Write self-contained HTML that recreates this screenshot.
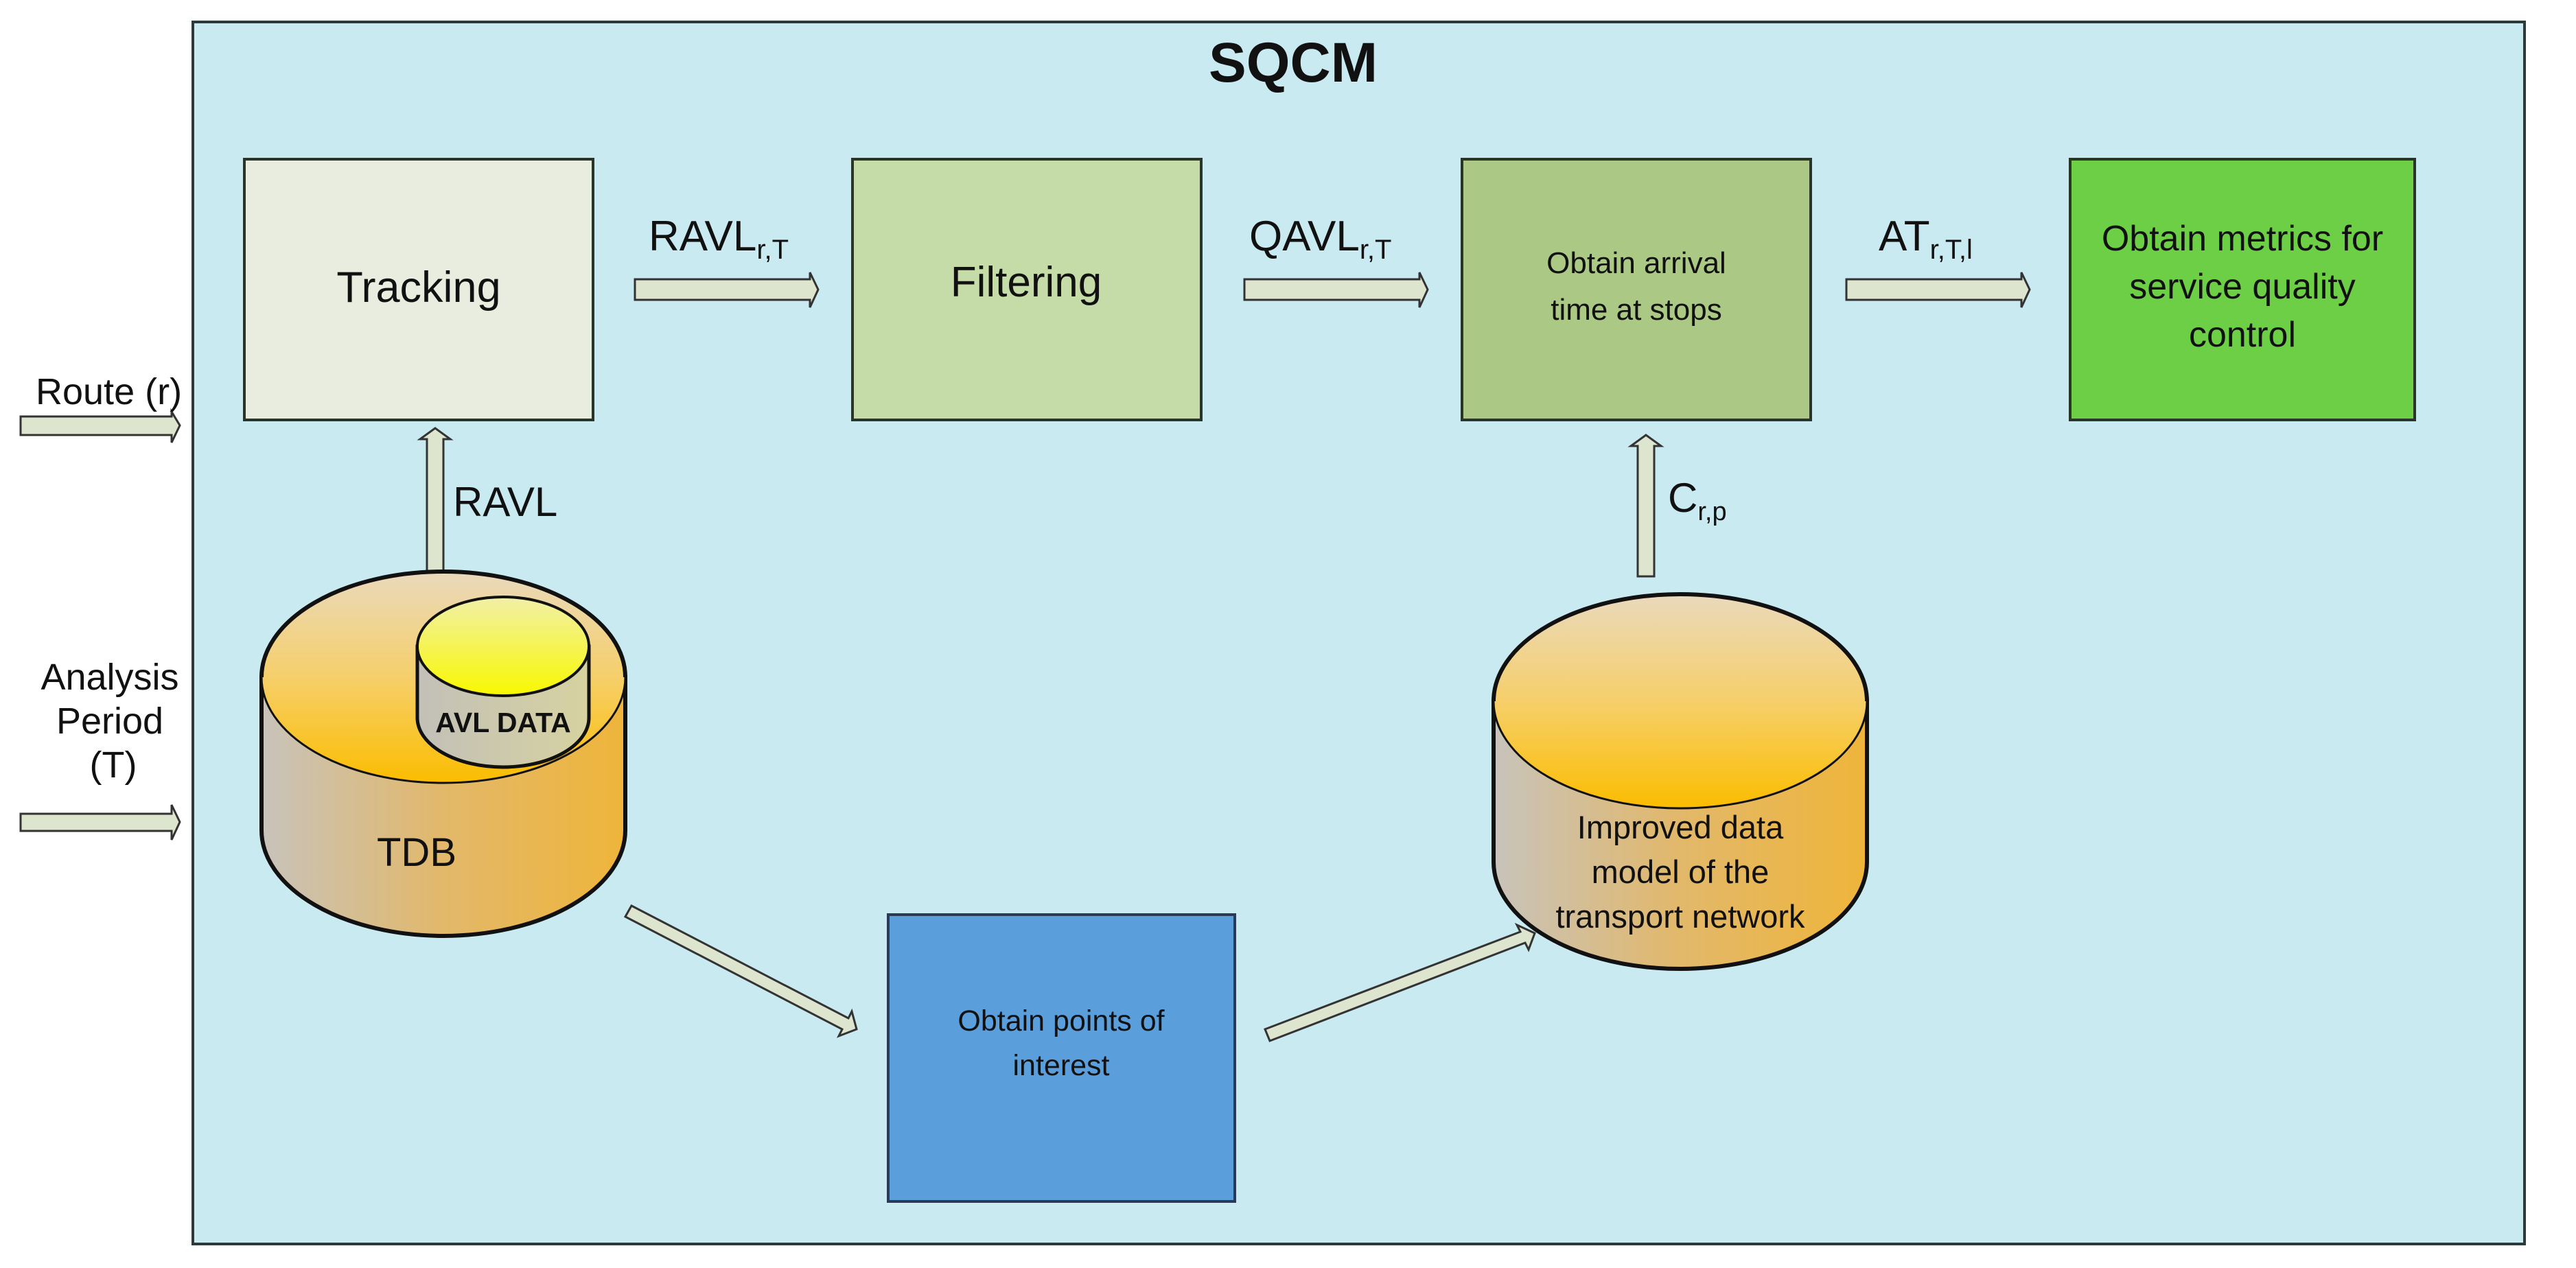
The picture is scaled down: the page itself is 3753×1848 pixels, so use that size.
<!DOCTYPE html>
<html><head><meta charset="utf-8"><style>
html,body{margin:0;padding:0;background:#fff;}
svg{display:block;}
text{font-family:"Liberation Sans",Arial,sans-serif;fill:#111;}
</style></head><body>
<svg width="3753" height="1848" viewBox="0 0 3753 1848" xmlns="http://www.w3.org/2000/svg">
<defs>
<linearGradient id="cylSide" x1="0" y1="0" x2="1" y2="0">
<stop offset="0" stop-color="#c8c3bb"/><stop offset="0.5" stop-color="#e2b86a"/><stop offset="1" stop-color="#efb53a"/></linearGradient>
<linearGradient id="cylTop" x1="0" y1="0" x2="0" y2="1">
<stop offset="0" stop-color="#ead9bc"/><stop offset="0.5" stop-color="#f6cf6a"/><stop offset="1" stop-color="#fbbd00"/></linearGradient>
<linearGradient id="avlTop" x1="0" y1="0" x2="0" y2="1">
<stop offset="0" stop-color="#f2f0a8"/><stop offset="1" stop-color="#f8f800"/></linearGradient>
<linearGradient id="avlSide" x1="0" y1="0" x2="1" y2="0">
<stop offset="0" stop-color="#c2c0b8"/><stop offset="1" stop-color="#d7d2a0"/></linearGradient>
</defs>

<rect x="281" y="32" width="3397" height="1781" fill="#c8eaf0" stroke="#2d3a3a" stroke-width="4"/>
<text x="1884" y="119" font-size="82" font-weight="bold" text-anchor="middle">SQCM</text>

<rect x="356" y="232" width="508" height="380" fill="#e8eddf" stroke="#2a352a" stroke-width="4"/>
<text x="610" y="440" font-size="63" text-anchor="middle">Tracking</text>

<rect x="1242" y="232" width="508" height="380" fill="#c6dca8" stroke="#2a352a" stroke-width="4"/>
<text x="1495" y="432" font-size="62" text-anchor="middle">Filtering</text>

<rect x="2130" y="232" width="508" height="380" fill="#abc985" stroke="#2a352a" stroke-width="4"/>
<g font-size="44" text-anchor="middle">
<text x="2384" y="398">Obtain arrival</text>
<text x="2384" y="466">time at stops</text></g>

<rect x="3016" y="232" width="502" height="380" fill="#6ccf45" stroke="#2a352a" stroke-width="4"/>
<g font-size="52" text-anchor="middle">
<text x="3267" y="365">Obtain metrics for</text>
<text x="3267" y="435">service quality</text>
<text x="3267" y="505">control</text></g>

<rect x="1294" y="1333" width="505" height="418" fill="#5a9edb" stroke="#2a3a55" stroke-width="4"/>
<g font-size="43" text-anchor="middle">
<text x="1546" y="1502">Obtain points of</text>
<text x="1546" y="1567">interest</text></g>

<g fill="#dde5cf" stroke="#333" stroke-width="3">
<path d="M925 407 H1180 V397 L1192 422 L1180 448 V437 H925 Z"/>
<path d="M1813 407 H2068 V397 L2080 422 L2068 448 V437 H1813 Z"/>
<path d="M2690 407 H2945 V397 L2957 422 L2945 448 V437 H2690 Z"/>
<path d="M30 607 H250 V600 L262 620 L250 645 V634 H30 Z"/>
<path d="M30 1186 H250 V1173 L262 1198 L250 1224 V1211 H30 Z"/>
<path d="M622 840 V640 H612 L634 624 L656 640 H646 V840 Z"/>
<path d="M2386 840 V650 H2376 L2398 634 L2420 650 H2410 V840 Z"/>
<path d="M920 1320 L1236 1484 L1241 1474 L1248 1500 L1222 1510 L1227 1500 L911 1336 Z"/>
<path d="M1843 1500 L2215 1358 L2210 1348 L2236 1360 L2227 1384 L2222 1374 L1850 1517 Z"/>
</g>

<text x="945" y="365" font-size="62">RAVL<tspan font-size="40" dy="12">r,T</tspan></text>
<text x="1820" y="365" font-size="62">QAVL<tspan font-size="40" dy="12">r,T</tspan></text>
<text x="2737" y="365" font-size="62">AT<tspan font-size="40" dy="12">r,T,l</tspan></text>
<text x="660" y="752" font-size="60">RAVL</text>
<text x="2430" y="746" font-size="60">C<tspan font-size="38" dy="12">r,p</tspan></text>
<text x="52" y="589" font-size="54">Route (r)</text>
<g font-size="54" text-anchor="middle">
<text x="160" y="1005">Analysis</text>
<text x="160" y="1069">Period</text>
<text x="165" y="1133">(T)</text></g>

<path d="M381 987 V1210 A265 154 0 0 0 911 1210 V987 Z" fill="url(#cylSide)" stroke="#111" stroke-width="6"/>
<ellipse cx="646" cy="987" rx="265" ry="154" fill="url(#cylTop)" stroke="#111" stroke-width="3"/>
<path d="M381 987 A265 154 0 0 1 911 987" fill="none" stroke="#111" stroke-width="6"/>
<path d="M608 942 V1046 A125 72 0 0 0 858 1046 V942 Z" fill="url(#avlSide)" stroke="#111" stroke-width="5"/>
<ellipse cx="733" cy="942" rx="125" ry="72" fill="url(#avlTop)" stroke="#111" stroke-width="4"/>
<text x="733" y="1067" font-size="41" font-weight="bold" text-anchor="middle">AVL DATA</text>
<text x="607" y="1262" font-size="58" text-anchor="middle">TDB</text>

<path d="M2176 1022 V1256 A272 156 0 0 0 2720 1256 V1022 Z" fill="url(#cylSide)" stroke="#111" stroke-width="6"/>
<ellipse cx="2448" cy="1022" rx="272" ry="156" fill="url(#cylTop)" stroke="#111" stroke-width="3"/>
<path d="M2176 1022 A272 156 0 0 1 2720 1022" fill="none" stroke="#111" stroke-width="6"/>
<g font-size="47" text-anchor="middle">
<text x="2448" y="1222">Improved data</text>
<text x="2448" y="1287">model of the</text>
<text x="2448" y="1352">transport network</text></g>
</svg>
</body></html>
